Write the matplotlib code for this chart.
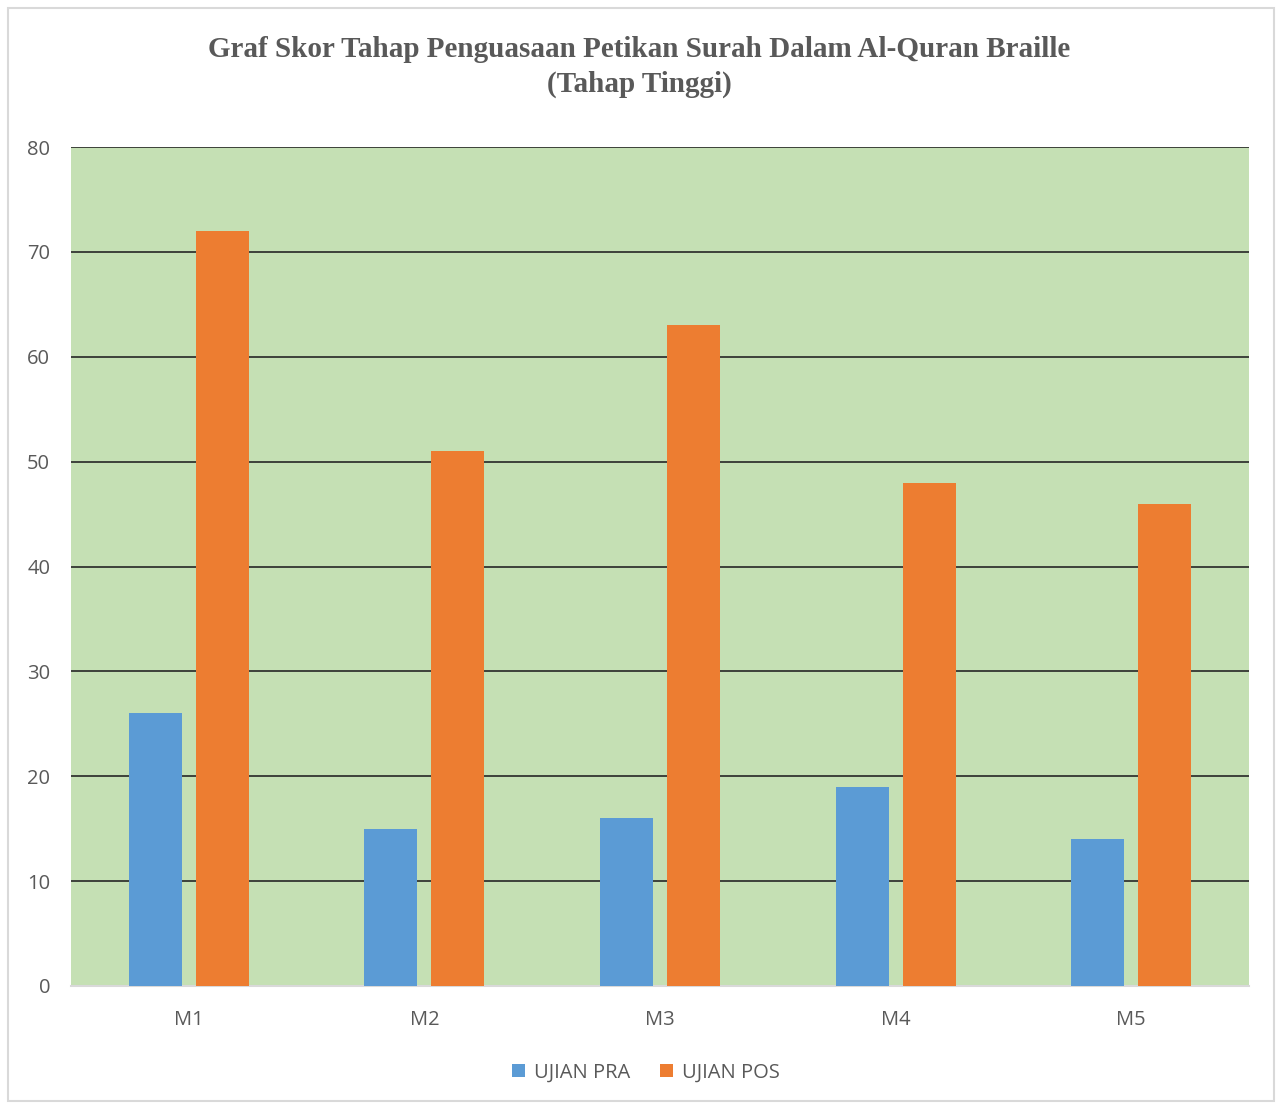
import numpy as np
import matplotlib
matplotlib.use("Agg")
import matplotlib.pyplot as plt

kategori = ["M1", "M2", "M3", "M4", "M5"]
ujian_pra = [26, 15, 16, 19, 14]
ujian_pos = [72, 51, 63, 48, 46]
siri = ["UJIAN PRA", "UJIAN POS"]
warna = ["#5b9bd5", "#ed7d31"]
tajuk = "Graf Skor Tahap Penguasaan Petikan Surah Dalam Al-Quran Braille\n(Tahap Tinggi)"

plt.rcParams['font.family'] = ['Open Sans', 'DejaVu Sans']

fig = plt.figure(figsize=(12.78, 11.04), dpi=100)
# bingkai luar
fig.patches.append(plt.Rectangle((0.006, 0.003), 0.991, 0.99, transform=fig.transFigure,
                                 fill=False, edgecolor="#d9d9d9", linewidth=1.5))
ax = fig.add_axes([0.0556, 0.1069, 0.9217, 0.7599])
ax.set_facecolor("#c5e0b4")

x = np.arange(len(kategori))
lebar = 0.225
ax.bar(x - 0.142, ujian_pra, lebar, color=warna[0], label=siri[0], zorder=3)
ax.bar(x + 0.142, ujian_pos, lebar, color=warna[1], label=siri[1], zorder=3)

ax.set_xlim(-0.5, len(kategori) - 0.5)
ax.set_ylim(0, 80)
ax.set_yticks(range(0, 81, 10))
ax.set_xticks(x)
ax.set_xticklabels(kategori)
ax.yaxis.grid(True, color="#262626", linewidth=1.2, zorder=1)
ax.set_axisbelow(True)
for s in ["left", "right", "top"]:
    ax.spines[s].set_visible(False)
ax.spines["bottom"].set_color("#d9d9d9")
ax.spines["bottom"].set_linewidth(1.5)
ax.tick_params(length=0, labelsize=14.5, colors="#595959")
ax.tick_params(axis="y", pad=15)
ax.tick_params(axis="x", pad=17)

fig.text(0.5, 0.967, tajuk, ha="center", va="top", family="Liberation Serif",
         fontweight="bold", fontsize=21, color="#595959", linespacing=1.35)

ax.legend(loc="upper center", bbox_to_anchor=(0.488, -0.07), ncol=2, frameon=False,
          fontsize=14.5, labelcolor="#595959", handlelength=0.65, handleheight=0.65,
          handletextpad=0.45, columnspacing=1.5)

fig.savefig("out.png", dpi=100)
